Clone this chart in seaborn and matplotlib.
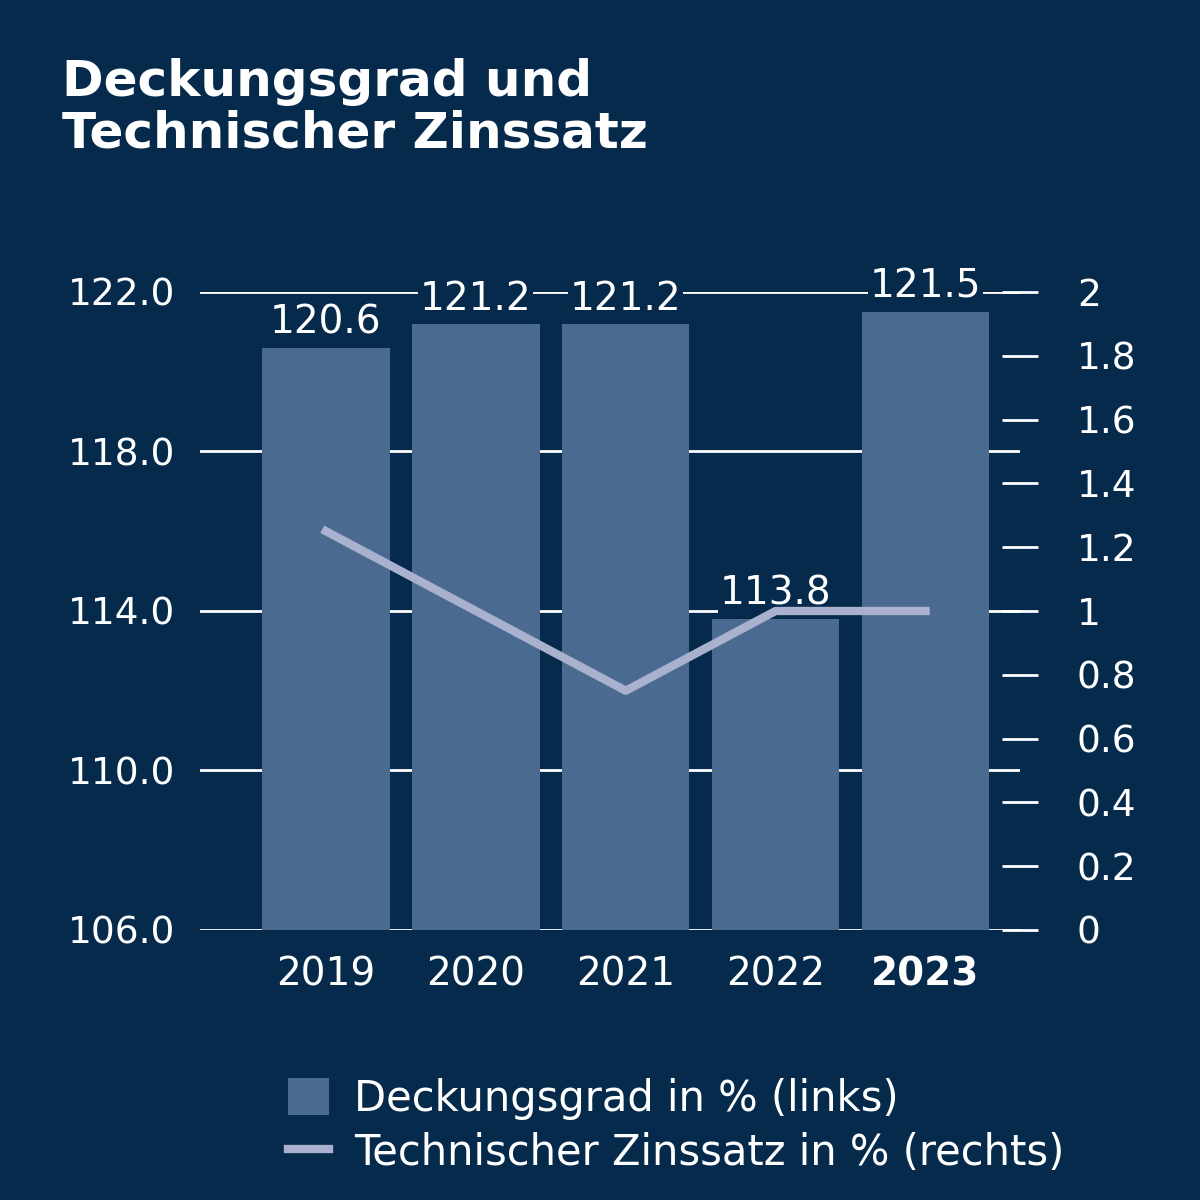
import matplotlib
matplotlib.use("Agg")
import matplotlib.pyplot as plt
import seaborn as sns
import pandas as pd
from matplotlib.patches import Patch
from matplotlib.lines import Line2D

years = ["2019", "2020", "2021", "2022", "2023"]
deckungsgrad = [120.6, 121.2, 121.2, 113.8, 121.5]
zinssatz = [1.25, 1.0, 0.75, 1.0, 1.0]
left_ticks = [106.0, 110.0, 114.0, 118.0, 122.0]
right_ticks = [0, 0.2, 0.4, 0.6, 0.8, 1, 1.2, 1.4, 1.6, 1.8, 2]
right_labels = ["0", "0.2", "0.4", "0.6", "0.8", "1", "1.2", "1.4", "1.6", "1.8", "2"]

BG = "#062a4c"
BAR = "#4b6a90"
LINE = "#a9b1cf"
W = "white"
FONT = "DejaVu Sans"

df = pd.DataFrame({"year": years, "dg": deckungsgrad, "zs": zinssatz, "x": range(len(years))})

fig = plt.figure(figsize=(12, 12), dpi=100, facecolor=BG)
ax = fig.add_axes([0.1667, 0.225, 0.6833, 0.5317])
ax.set_facecolor(BG)
for y in left_ticks:
    ax.axhline(y, color=W, lw=2, zorder=0)
sns.barplot(data=df, x="year", y="dg", color=BAR, width=0.85, saturation=1, ax=ax, zorder=2)
ax.set_ylim(106, 122)
ax.set_xlim(-0.84, 4.63)
ax.set_yticks(left_ticks)
ax.set_yticklabels([f"{v:.1f}" for v in left_ticks], color=W, fontsize=27, family=FONT)
ax.tick_params(axis="y", length=0, pad=18)
ax.tick_params(axis="x", length=0, pad=18, labelsize=28, labelcolor=W)
for lab in ax.get_xticklabels():
    lab.set_family(FONT)
    if lab.get_text() == "2023":
        lab.set_fontweight("bold")
ax.set_xlabel("")
ax.set_ylabel("")
for s in ax.spines.values():
    s.set_visible(False)
for i, v in enumerate(deckungsgrad):
    ax.text(i, v + 0.15, f"{v:.1f}", ha="center", va="bottom", color=W, fontsize=28,
            family=FONT, zorder=5, bbox=dict(facecolor=BG, edgecolor="none", pad=1))

ax2 = ax.twinx()
sns.lineplot(data=df, x="x", y="zs", color=LINE, lw=6, ax=ax2, zorder=4)
ax2.set_ylim(0, 2)
ax2.set_yticks(right_ticks)
ax2.set_yticklabels(right_labels, color=W, fontsize=27, family=FONT)
ax2.tick_params(axis="y", length=26, width=2, color=W, direction="inout", pad=28)
ax2.set_ylabel("")
for s in ax2.spines.values():
    s.set_visible(False)

fig.text(62 / 1200, 1 - 58 / 1200, "Deckungsgrad und\nTechnischer Zinssatz", color=W,
         fontsize=36, fontweight="bold", family=FONT, va="top", linespacing=1.1)

handles = [Patch(facecolor=BAR, edgecolor="none"), Line2D([0], [0], color=LINE, lw=6)]
fig.legend(handles, ["Deckungsgrad in % (links)", "Technischer Zinssatz in % (rechts)"],
           loc="upper left", bbox_to_anchor=(250 / 1200, 1 - 1040 / 1200), frameon=False,
           prop={"family": FONT, "size": 30}, labelcolor=W, handlelength=1.0,
           handleheight=1.0, handletextpad=0.6, labelspacing=0.3)

fig.savefig("out.png", dpi=100, facecolor=BG)
